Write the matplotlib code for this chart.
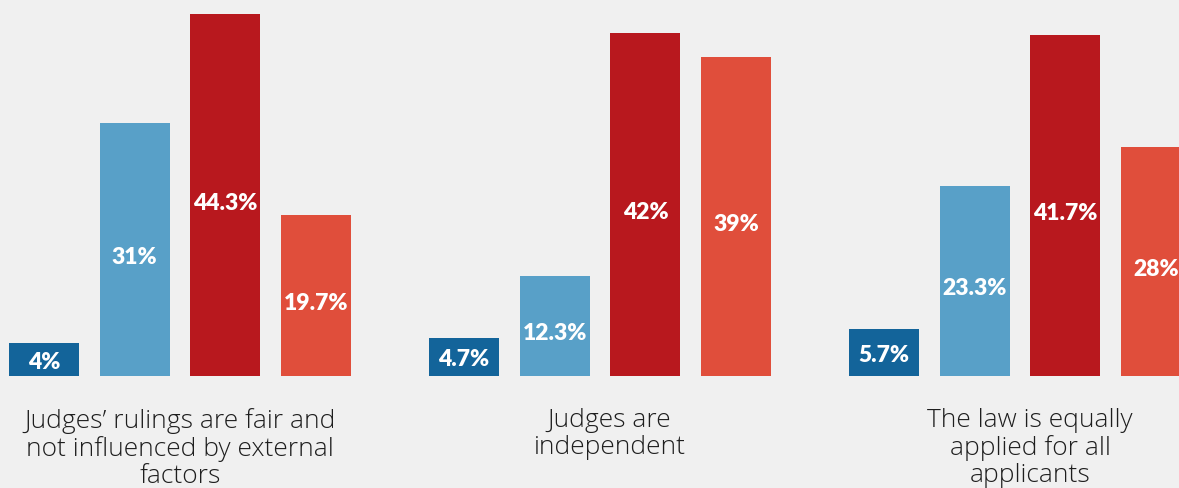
import matplotlib
matplotlib.use("Agg")
import matplotlib.pyplot as plt
import numpy as np

categories = ["Judges\u2019 rulings are fair and\nnot influenced by external\nfactors",
              "Judges are\nindependent",
              "The law is equally\napplied for all\napplicants"]
series1 = [4, 4.7, 5.7]
series2 = [31, 12.3, 23.3]
series3 = [44.3, 42, 41.7]
series4 = [19.7, 39, 28]
labels1 = ["4%", "4.7%", "5.7%"]
labels2 = ["31%", "12.3%", "23.3%"]
labels3 = ["44.3%", "42%", "41.7%"]
labels4 = ["19.7%", "39%", "28%"]

colors = ["#13649a", "#58a0c8", "#b8181e", "#e04e3b"]
bg = "#f0f0f0"

W, H = 1179, 489
fig = plt.figure(figsize=(W / 100, H / 100), dpi=100, facecolor=bg)
base_px = 377
ax = fig.add_axes([0, (H - base_px) / H, 1, base_px / H])
ax.set_facecolor(bg)

group_px = 420.0
x = np.arange(len(categories))
bw = 70 / group_px
pitch = 90.7 / group_px
offsets = np.array([-1.5, -0.5, 0.5, 1.5]) * pitch

all_series = [series1, series2, series3, series4]
all_labels = [labels1, labels2, labels3, labels4]
for i, (vals, labs) in enumerate(zip(all_series, all_labels)):
    bars = ax.bar(x + offsets[i], vals, width=bw, color=colors[i], linewidth=0)
    for b, lab in zip(bars, labs):
        h = b.get_height()
        dy = -7 if h > 8 else -2
        ax.annotate(lab, xy=(b.get_x() + b.get_width() / 2, h / 2),
                    xytext=(0, dy), textcoords="offset pixels",
                    ha="center", va="center", color="white", fontsize=16.5,
                    fontweight="heavy", family="Lato", annotation_clip=False)

left_px = 180.0
ax.set_xlim(-left_px / group_px, (W - left_px) / group_px)
ax.set_ylim(0, base_px / 8.17)
ax.axis("off")

label_shift = [0, 9.5 / group_px, 10 / group_px]
for i, cat in enumerate(categories):
    ax.annotate(cat, xy=(x[i] + label_shift[i], 0), xycoords="data",
                xytext=(0, -31), textcoords="offset pixels",
                ha="center", va="top", fontsize=19, color="#1e1e1e",
                family="Open Sans", fontweight="light", linespacing=1.11,
                annotation_clip=False)

fig.savefig("out.png", dpi=100, facecolor=bg)
